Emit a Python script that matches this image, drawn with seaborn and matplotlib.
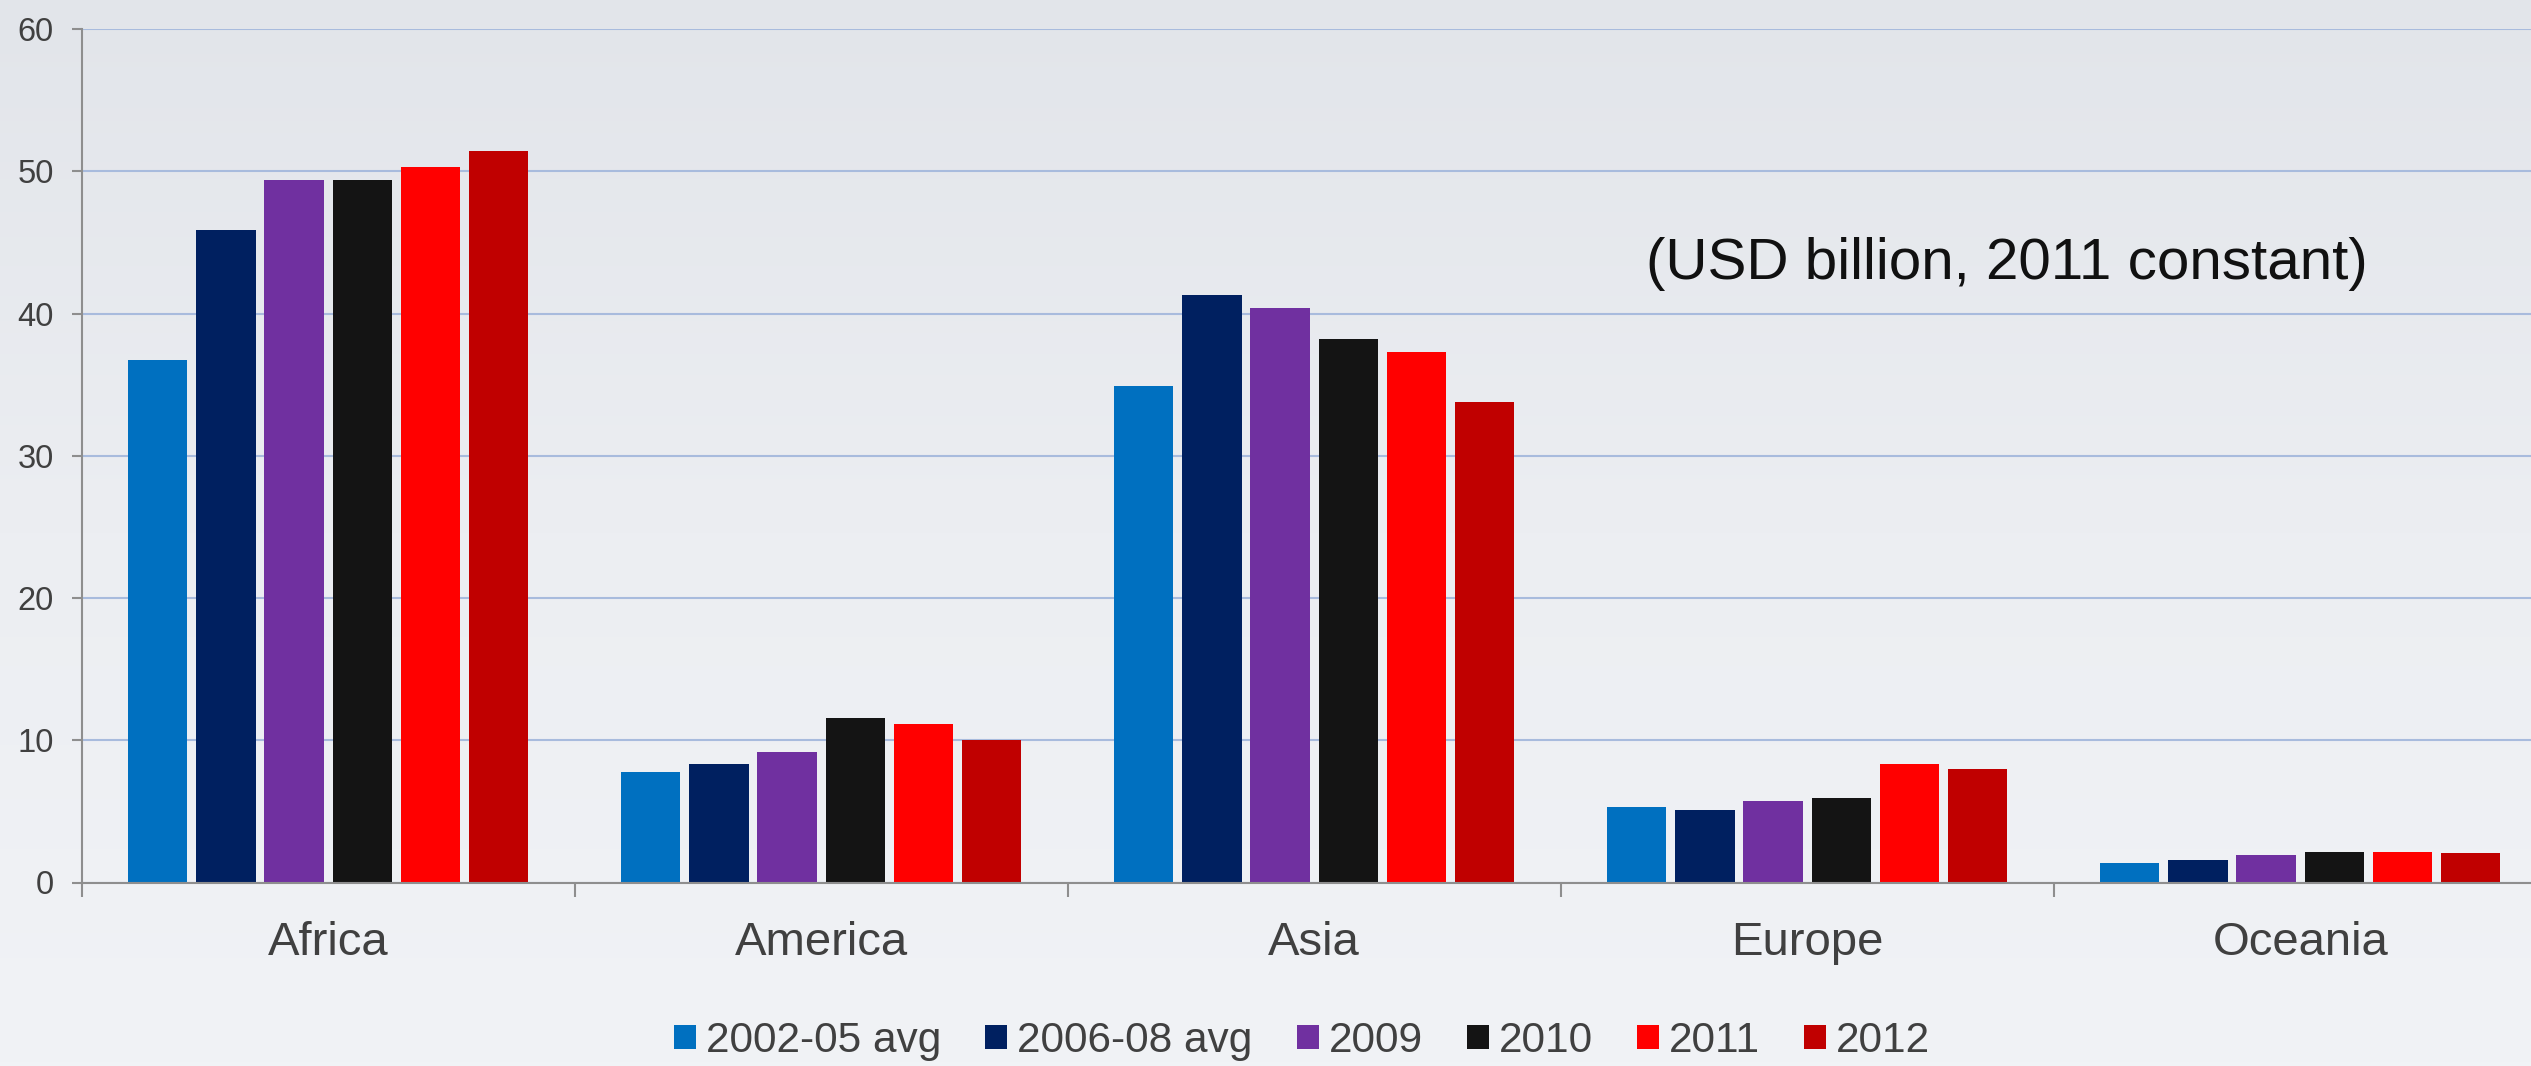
import numpy as np
import pandas as pd
import matplotlib
matplotlib.use("Agg")
import matplotlib.pyplot as plt
from matplotlib.colors import LinearSegmentedColormap
import seaborn as sns

# ---------------- data ----------------
regions = ["Africa", "America", "Asia", "Europe", "Oceania"]
series = ["2002-05 avg", "2006-08 avg", "2009", "2010", "2011", "2012"]
avg_2002_05 = [36.7, 7.8, 34.9, 5.3, 1.4]
avg_2006_08 = [45.9, 8.35, 41.3, 5.1, 1.6]
y2009 = [49.4, 9.15, 40.4, 5.75, 1.95]
y2010 = [49.4, 11.55, 38.2, 5.95, 2.15]
y2011 = [50.3, 11.15, 37.3, 8.35, 2.15]
y2012 = [51.4, 10.05, 33.8, 7.95, 2.05]
colors = ["#0070C0", "#002060", "#7030A0", "#141414", "#FF0000", "#C00000"]
y_ticks = [0, 10, 20, 30, 40, 50, 60]
note = "(USD billion, 2011 constant)"

values = [avg_2002_05, avg_2006_08, y2009, y2010, y2011, y2012]
df = pd.DataFrame(
    [(r, s, v) for s, vals in zip(series, values) for r, v in zip(regions, vals)],
    columns=["region", "series", "value"],
)

# ---------------- figure ----------------
sns.set_style("white")
plt.rcParams["font.family"] = ["Liberation Sans", "DejaVu Sans"]

W, H, DPI = 2531, 1066, 100
fig = plt.figure(figsize=(W / DPI, H / DPI), dpi=DPI)

# background gradient
bg = fig.add_axes([0, 0, 1, 1], zorder=-10)
grad = np.linspace(0, 1, 256).reshape(-1, 1)
cmap = LinearSegmentedColormap.from_list("bg", ["#e2e5ea", "#eceef2", "#f1f3f6"])
bg.imshow(grad, aspect="auto", cmap=cmap, extent=[0, 1, 0, 1], origin="upper")
bg.set_axis_off()

left = 81.7 / W
right_px = 81.7 + 5 * 493
bottom = 1 - 882.5 / H
top = 1 - 29 / H
ax = fig.add_axes([left, bottom, (right_px - 81.7) / W, top - bottom])
ax.set_facecolor("none")

sns.barplot(
    data=df, x="region", y="value", hue="series", order=regions,
    hue_order=series, palette=colors, width=0.83, gap=0.13,
    saturation=1, linewidth=0, ax=ax,
)

ax.set_xlim(-0.5, 4.5)
ax.set_ylim(0, 60)
ax.set_yticks(y_ticks)
ax.set_xlabel("")
ax.set_ylabel("")
ax.set_axisbelow(True)
ax.yaxis.grid(True, color="#a8bbdd", linewidth=1.5)
ax.xaxis.grid(False)

for s in ["top", "right"]:
    ax.spines[s].set_visible(False)
for s in ["left", "bottom"]:
    ax.spines[s].set_color("#8e8e8e")
    ax.spines[s].set_linewidth(1.5)

ax.tick_params(axis="y", which="major", left=True, length=7.2, width=1.5,
               color="#8e8e8e", pad=13, labelsize=23.5, labelcolor="#404040")
ax.tick_params(axis="x", which="major", length=0, pad=28, labelsize=34,
               labelcolor="#404040")
ax.set_xticks(np.arange(-0.5, 5.0, 1.0), minor=True)
ax.tick_params(axis="x", which="minor", bottom=True, length=10, width=1.5,
               color="#8e8e8e")

# annotation
fig.text(1646 / W, 1 - 279 / H, note, ha="left", va="baseline",
         fontsize=42, color="#111111")

# legend
handles, labels = ax.get_legend_handles_labels()
if ax.get_legend() is not None:
    ax.get_legend().remove()
fs_px = 30.5 * DPI / 72
fig.legend(handles, labels, loc="center", bbox_to_anchor=(1302 / W, 1 - 1041 / H),
           ncol=6, frameon=False, fontsize=30.5, labelcolor="#404040",
           handlelength=22 / fs_px, handleheight=22 / fs_px,
           handletextpad=10 / fs_px, columnspacing=44 / fs_px, borderpad=0)

fig.savefig("out.png", dpi=DPI)
